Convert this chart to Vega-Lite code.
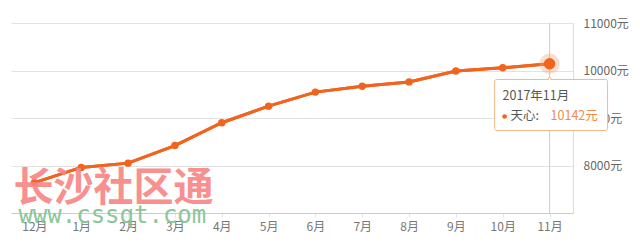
{
  "$schema": "https://vega.github.io/schema/vega-lite/v6.json",
  "width": 562,
  "height": 190,
  "autosize": {"type": "none"},
  "padding": {"left": 11, "top": 23, "right": 67, "bottom": 31},
  "background": "white",
  "config": {
    "view": {"stroke": null},
    "font": "Noto Sans CJK SC"
  },
  "datasets": {
    "prices": [
      {"month": "12月", "price": 7640},
      {"month": "1月", "price": 7960},
      {"month": "2月", "price": 8050},
      {"month": "3月", "price": 8420},
      {"month": "4月", "price": 8900},
      {"month": "5月", "price": 9250},
      {"month": "6月", "price": 9545},
      {"month": "7月", "price": 9670},
      {"month": "8月", "price": 9760},
      {"month": "9月", "price": 9990},
      {"month": "10月", "price": 10057},
      {"month": "11月", "price": 10142}
    ]
  },
  "data": {"name": "prices"},
  "layer": [
    {
      "mark": {"type": "line", "color": "#f0641e", "strokeWidth": 3},
      "encoding": {
        "x": {
          "field": "month",
          "type": "ordinal",
          "sort": null,
          "scale": {"type": "point", "padding": 0.5, "domain": ["12月", "1月", "2月", "3月", "4月", "5月", "6月", "7月", "8月", "9月", "10月", "11月"]},
          "axis": {
            "title": null,
            "labelAngle": 0,
            "labelColor": "#777777",
            "labelFontSize": 12,
            "labelPadding": 4,
            "tickSize": 4,
            "tickColor": "#e4e4e4",
            "domainColor": "#cccccc",
            "grid": false
          }
        },
        "y": {
          "field": "price",
          "type": "quantitative",
          "scale": {"domain": [7000, 11000], "nice": false, "zero": false},
          "axis": {
            "orient": "right",
            "title": null,
            "values": [7000, 8000, 9000, 10000, 11000],
            "labelExpr": "datum.value == 7000 ? '' : datum.value + '元'",
            "labelColor": "#666666",
            "labelFontSize": 12,
            "labelPadding": 10,
            "labelAlign": "left",
            "tickSize": 0,
            "domainColor": "#dddddd",
            "gridColor": "#e2e2e2"
          }
        }
      }
    },
    {
      "transform": [{"filter": "datum.month == '11月'"}],
      "mark": {"type": "rule", "color": "#cccccc", "strokeWidth": 1},
      "encoding": {"x": {"field": "month", "type": "ordinal"}}
    },
    {
      "mark": {"type": "line", "color": "#f0641e", "strokeWidth": 3},
      "encoding": {
        "x": {"field": "month", "type": "ordinal", "sort": null},
        "y": {"field": "price", "type": "quantitative"}
      }
    },
    {
      "mark": {"type": "point", "filled": true, "color": "#f0641e", "size": 55, "opacity": 1},
      "encoding": {
        "x": {"field": "month", "type": "ordinal"},
        "y": {"field": "price", "type": "quantitative"}
      }
    },
    {
      "transform": [{"filter": "datum.month == '11月'"}],
      "mark": {"type": "point", "filled": true, "color": "#f5a070", "size": 420, "opacity": 0.35},
      "encoding": {
        "x": {"field": "month", "type": "ordinal"},
        "y": {"field": "price", "type": "quantitative"}
      }
    },
    {
      "transform": [{"filter": "datum.month == '11月'"}],
      "mark": {"type": "point", "filled": true, "color": "#f0641e", "size": 130, "opacity": 1},
      "encoding": {
        "x": {"field": "month", "type": "ordinal"},
        "y": {"field": "price", "type": "quantitative"}
      }
    },
    {
      "transform": [{"filter": "datum.month == '11月'"}],
      "mark": {"type": "point", "shape": "triangle-up", "filled": true, "fill": "white", "stroke": "#f5b88a", "strokeWidth": 1, "size": 90, "opacity": 1},
      "encoding": {"x": {"field": "month", "type": "ordinal"}, "y": {"datum": 9790}}
    },
    {
      "transform": [{"filter": "datum.month == '11月'"}],
      "mark": {"type": "rect", "fill": "white", "fillOpacity": 0.97, "stroke": "#f5b88a", "strokeWidth": 1, "cornerRadius": 2, "xOffset": -55, "x2Offset": 58},
      "encoding": {
        "x": {"field": "month", "type": "ordinal"},
        "x2": {"field": "month"},
        "y": {"datum": 9811},
        "y2": {"datum": 8737}
      }
    },
    {
      "transform": [{"filter": "datum.month == '11月'"}],
      "mark": {"type": "point", "shape": "triangle-up", "filled": true, "fill": "white", "strokeWidth": 0, "size": 60, "opacity": 1, "yOffset": 1},
      "encoding": {"x": {"field": "month", "type": "ordinal"}, "y": {"datum": 9790}}
    },
    {
      "transform": [{"filter": "datum.month == '11月'"}],
      "mark": {"type": "text", "align": "left", "baseline": "middle", "dx": -47, "fontSize": 12.5, "color": "#555555"},
      "encoding": {"x": {"field": "month", "type": "ordinal"}, "y": {"datum": 9453}, "text": {"value": "2017年11月"}}
    },
    {
      "transform": [{"filter": "datum.month == '11月'"}],
      "mark": {"type": "point", "filled": true, "color": "#f0641e", "size": 22, "opacity": 1, "xOffset": -45},
      "encoding": {"x": {"field": "month", "type": "ordinal"}, "y": {"datum": 9032}}
    },
    {
      "transform": [{"filter": "datum.month == '11月'"}],
      "mark": {"type": "text", "align": "left", "baseline": "middle", "dx": -39, "fontSize": 12.5, "color": "#555555"},
      "encoding": {"x": {"field": "month", "type": "ordinal"}, "y": {"datum": 9032}, "text": {"value": "天心:"}}
    },
    {
      "transform": [{"filter": "datum.month == '11月'"}],
      "mark": {"type": "text", "align": "left", "baseline": "middle", "dx": 1, "fontSize": 12.5, "color": "#f08a4b"},
      "encoding": {"x": {"field": "month", "type": "ordinal"}, "y": {"datum": 9032}, "text": {"value": "10142元"}}
    },
    {
      "transform": [{"filter": "datum.month == '12月'"}],
      "mark": {"type": "text", "align": "left", "baseline": "middle", "dx": -21, "fontSize": 40, "fontWeight": "bold", "font": "Noto Sans CJK SC", "color": "#f88585", "opacity": 0.9},
      "encoding": {"x": {"field": "month", "type": "ordinal"}, "y": {"datum": 7500}, "text": {"value": "长沙社区通"}}
    },
    {
      "transform": [{"filter": "datum.month == '12月'"}],
      "mark": {"type": "text", "align": "left", "baseline": "alphabetic", "dx": -16, "fontSize": 24, "font": "DejaVu Sans Mono", "color": "#86c495", "opacity": 0.95},
      "encoding": {"x": {"field": "month", "type": "ordinal"}, "y": {"datum": 6780}, "text": {"value": "www.cssqt.com"}}
    }
  ]
}
